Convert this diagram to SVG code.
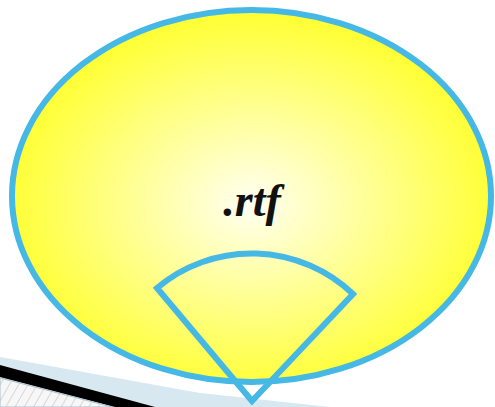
<svg xmlns="http://www.w3.org/2000/svg" width="495" height="407" viewBox="0 0 495 407">
<defs>
<radialGradient id="yg" cx="50%" cy="52%" r="50%">
<stop offset="0" stop-color="#fffff4"/>
<stop offset="0.2" stop-color="#ffffcc"/>
<stop offset="1" stop-color="#ffff38"/>
</radialGradient>
<pattern id="hatch" width="8" height="8" patternUnits="userSpaceOnUse" patternTransform="rotate(30)">
<rect width="8" height="8" fill="#f7f7f7"/>
<line x1="0" y1="0" x2="0" y2="8" stroke="#b8b8b8" stroke-width="1"/>
</pattern>
<style>
.blue{stroke:#45b8e6;stroke-width:6;}
.lbl{font-family:"Liberation Serif","Times New Roman",serif;font-weight:bold;font-style:italic;font-size:46px;fill:#111;}
</style>
</defs>
<g id="background">
<path d="M0,357 L200,393 L330,407 L0,407 Z" fill="#d8e8f0"/>
<path d="M0,365 L155,407 L115,407 L0,377 Z" fill="#000"/>
<path d="M0,378 L112,407 L0,407 Z" fill="url(#hatch)" stroke="#a8c0cc" stroke-width="1"/>
</g>
<g id="ellipse-node">
<ellipse cx="251.5" cy="196" rx="239.5" ry="186" fill="url(#yg)" class="blue"/>
<text class="lbl" x="252" y="216" text-anchor="middle">.rtf</text>
</g>
<g id="sector-node">
<path d="M252,401 L157,288 A147,147 0 0 1 353,294 Z" fill="none" class="blue" stroke-linejoin="miter"/>
</g>
</svg>
